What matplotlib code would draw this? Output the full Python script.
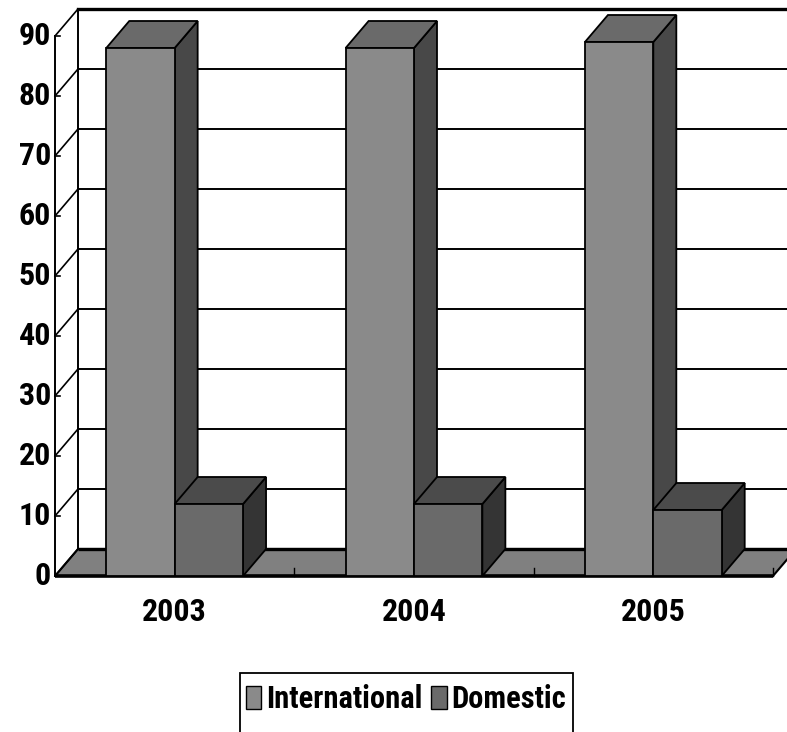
import matplotlib
matplotlib.use("Agg")
import matplotlib.pyplot as plt
from matplotlib.patches import Polygon, Patch, Rectangle

# ---- data -------------------------------------------------------------
years = ["2003", "2004", "2005"]
international = [88, 88, 89]
domestic = [12, 12, 11]
series_names = ["International", "Domestic"]
value_ticks = [0, 10, 20, 30, 40, 50, 60, 70, 80, 90]

# ---- styling ----------------------------------------------------------
plt.rcParams["font.family"] = ["Roboto Condensed", "Liberation Sans", "DejaVu Sans"]
plt.rcParams["font.weight"] = "bold"
FS = 23
FS_LEG = 22

W, H, DPI = 787, 732, 100
PX_X = 239.33           # pixels per category unit
PX_Y = 6.0              # pixels per value unit
X0_PX, Y0_PX = 55, 576  # pixel position of the front-left origin
DX = 23 / PX_X          # depth offset (category units)
DY = 27 / PX_Y          # depth offset (value units)
VMAX = 90
GAP = 0.75 / 3.5        # gap on each side of a cluster (gap width 150%)
BW = 1 / 3.5            # bar width

faces = {
    "International": dict(front="#8a8a8a", top="#6a6a6a", side="#484848"),
    "Domestic": dict(front="#6a6a6a", top="#4b4b4b", side="#343434"),
}
floor_color = "#808080"

fig = plt.figure(figsize=(W / DPI, H / DPI), dpi=DPI)
ax = fig.add_axes([0, 0, 1, 1])
ax.set_xlim(-X0_PX / PX_X, (W - X0_PX) / PX_X)
ax.set_ylim(-(H - Y0_PX) / PX_Y, Y0_PX / PX_Y)
ax.axis("off")

n = len(years)

# floor
ax.add_patch(Polygon([(0, 0), (n, 0), (n + DX, DY), (DX, DY)], closed=True,
                     facecolor=floor_color, edgecolor="black", lw=1.5, zorder=1))
ax.plot([0, n], [0, 0], color="black", lw=2.6, zorder=2, solid_capstyle="butt")
ax.plot([DX, n + DX], [DY, DY], color="black", lw=2.4, zorder=2, solid_capstyle="butt")

# back wall gridlines and top edge
for v in value_ticks[1:]:
    lw = 2.4 if v == VMAX else 1.4
    ax.plot([DX, n + DX], [v + DY, v + DY], color="black", lw=lw, zorder=1)
# left wall: back edge, front axis line and depth diagonals
ax.plot([DX, DX], [DY, VMAX + DY], color="black", lw=1.4, zorder=1)
ax.plot([0, 0], [0, VMAX], color="black", lw=1.4, zorder=1)
for v in value_ticks:
    ax.plot([0, DX], [v, v + DY], color="black", lw=1.2, zorder=1)
    ax.plot([0, 5 / PX_X], [v, v], color="black", lw=1.2, zorder=1)
    ax.text(-4 / PX_X, v, str(v), ha="right", va="center", fontsize=FS,
            fontweight="bold", zorder=5)

# category tick marks on the floor
for i in range(1, n + 1):
    ax.plot([i, i], [0, 8 / PX_Y], color="black", lw=1.0, zorder=2)


def draw_bar(x, h, col):
    front = [(x, 0), (x + BW, 0), (x + BW, h), (x, h)]
    top = [(x, h), (x + BW, h), (x + BW + DX, h + DY), (x + DX, h + DY)]
    side = [(x + BW, 0), (x + BW + DX, DY), (x + BW + DX, h + DY), (x + BW, h)]
    for pts, c in ((side, col["side"]), (top, col["top"]), (front, col["front"])):
        ax.add_patch(Polygon(pts, closed=True, facecolor=c, edgecolor="black",
                             lw=1.3, joinstyle="miter", zorder=3))


for i in range(n):
    x = i + GAP
    draw_bar(x, international[i], faces["International"])
    draw_bar(x + BW, domestic[i], faces["Domestic"])
    ax.text(i + 0.5, -6, years[i], ha="center", va="center", fontsize=FS,
            fontweight="bold", zorder=5)

# legend: box runs past the bottom edge of the figure
ax.add_patch(Rectangle((240 / W, -10 / H), 333 / W, (H + 10 - 673) / H,
                       transform=fig.transFigure, clip_on=False, facecolor="white",
                       edgecolor="black", lw=1.3, zorder=4))
handles = [Patch(facecolor=faces[s]["front"], edgecolor="black", lw=1.0) for s in series_names]
leg = ax.legend(handles, series_names, loc="center", ncol=2,
                bbox_to_anchor=(406 / W, 1 - 699 / H), bbox_transform=fig.transFigure,
                borderaxespad=0, frameon=False,
                handlelength=0.5, handleheight=0.75, handletextpad=0.15,
                columnspacing=0.3, borderpad=0.0,
                prop=dict(size=FS_LEG, weight="bold"))
leg.set_zorder(6)

fig.savefig("out.png", dpi=DPI)
